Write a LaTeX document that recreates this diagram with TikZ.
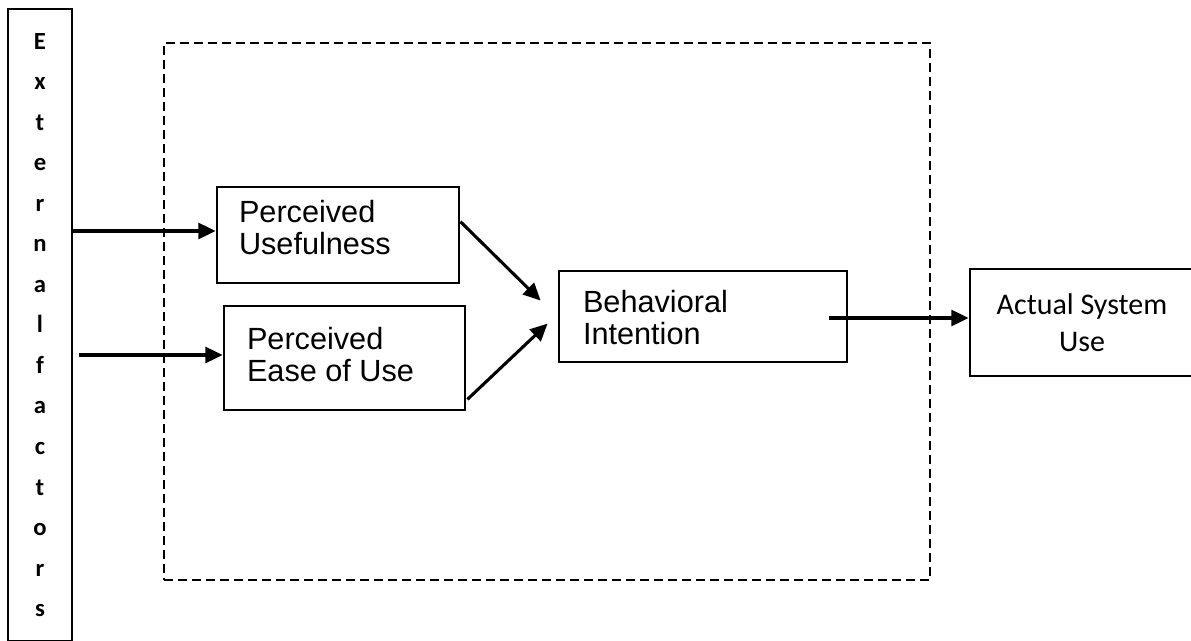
\documentclass[tikz,border=0pt]{standalone}
\usepackage{fontspec}
\setmainfont{Liberation Sans}
\newfontfamily\calibri{Carlito}
\usetikzlibrary{arrows.meta,calc}

% two left-aligned lines in a field of given width, shifted vertically by a given amount
\newcommand\leftpair[4]{\raisebox{#2}[0pt][0pt]{\makebox[#1][l]{\begin{tabular}{@{}l@{}}#3\\#4\end{tabular}}}}

\tikzset{
  box/.style={draw=black, line width=2.1pt, fill=white, inner sep=0pt,
              font=\fontsize{23}{24}\selectfont},
  frame/.style={draw=black, line width=2.2pt, dash pattern=on 6.5pt off 4pt, inner sep=0pt},
  arr/.style={line width=2.3pt, -{Triangle[length=13pt,width=12pt]}},
}

\begin{document}
\begin{tikzpicture}[x=0.75pt, y=-0.75pt]
  \useasboundingbox (0,0) rectangle (1191,641);

  % model boundary
  \node[frame, minimum width=574.5pt, minimum height=402.75pt] (model) at (547,311.5) {};

  % external factors column
  \node[box, align=center, minimum width=48pt, minimum height=474pt,
        font=\calibri\bfseries\fontsize{18.5}{30.4}\selectfont] (ext) at (40,325)
    {E\\x\\t\\e\\r\\n\\a\\l\\f\\a\\c\\t\\o\\r\\s};

  % constructs
  \node[box, minimum width=181.5pt, minimum height=72pt] (pu) at (338,235)
    {\leftpair{148.5pt}{-4pt}{Perceived}{Usefulness}};
  \node[box, minimum width=180.75pt, minimum height=78pt] (peou) at (344.5,358)
    {\leftpair{146.25pt}{-6.9pt}{Perceived}{Ease of Use}};
  \node[box, minimum width=216pt, minimum height=68.25pt] (bi) at (703,316.5)
    {\leftpair{180pt}{-10.7pt}{Behavioral}{Intention}};
  \node[box, align=center, minimum width=168pt, minimum height=80.25pt,
        font=\calibri\fontsize{22.5}{27.75}\selectfont] (asu) at (1082,322.5)
    {Actual System\\Use};

  % connectors
  \draw[arr] (ext.east |- {$(pu.west)+(0,-4)$}) -- ($(pu.west)+(0,-4)$);
  \draw[arr] ($(ext.east |- peou.west)+(6,-3)$) -- ($(peou.west)+(0,-3)$);
  \draw[arr] ($(pu.north east)+(0,36)$) -- ($(bi.north west)+(-17,31)$);
  \draw[arr] ($(peou.south east)+(1,-12)$) -- ($(bi.north west)+(-10,54)$);
  \draw[arr] ($(bi.east)+(-19,1.5)$) -- ($(asu.west)+(0,-4.5)$);
\end{tikzpicture}
\end{document}
